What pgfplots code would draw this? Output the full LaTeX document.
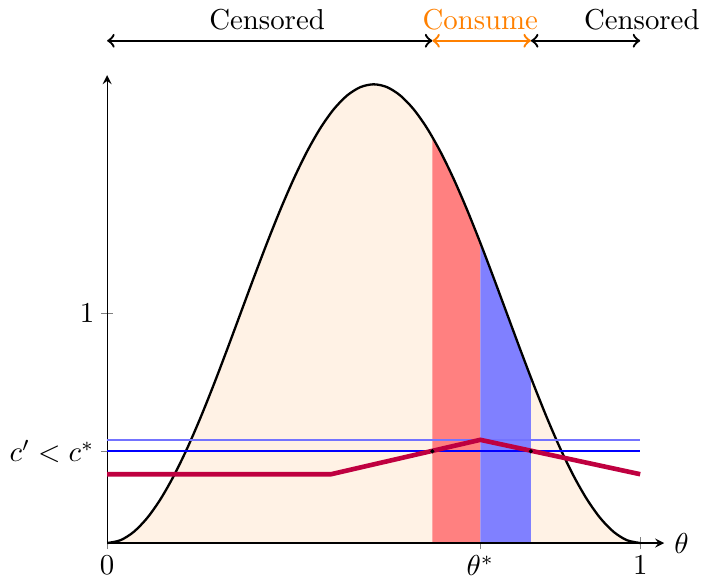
\documentclass[border=0pt]{standalone}
\usepackage{pgfplots}
\pgfplotsset{compat=1.18}
\begin{document}
\begin{tikzpicture}
\begin{axis}[
  x=185pt, y=79.6pt,
  axis lines=left,
  xmin=0, xmax=1.045, ymin=0, ymax=2.04,
  xtick={0,0.7,1}, xticklabels={$0$,$\theta^*$,$1$},
  ytick={0.4,1}, yticklabels={$c'<c^*$,$1$},
  tick align=center,
  xticklabel style={yshift=1.2pt},
  yticklabel style={xshift=1.2pt},
  xlabel={$\theta$},
  every axis x label/.style={at={(current axis.right of origin)}, anchor=west},
  clip=false,
]
% main density area
\addplot[fill=orange!10, draw=none, smooth] coordinates {
(0,0)(0.025,0.012312)(0.05,0.048943)(0.075,0.108993)(0.1,0.190983)(0.125,0.292893)
(0.15,0.412215)(0.175,0.546010)(0.2,0.690983)(0.225,0.843566)(0.25,1)
(0.275,1.156434)(0.3,1.309017)(0.325,1.453990)(0.35,1.587785)(0.375,1.707107)
(0.4,1.809017)(0.425,1.891007)(0.45,1.951057)(0.475,1.987688)(0.5,2)
(0.525,1.987688)(0.55,1.951057)(0.575,1.891007)(0.6,1.809017)(0.625,1.707107)
(0.65,1.587785)(0.675,1.453990)(0.7,1.309017)(0.725,1.156434)(0.75,1)
(0.775,0.843566)(0.8,0.690983)(0.825,0.546010)(0.85,0.412215)(0.875,0.292893)
(0.9,0.190983)(0.925,0.108993)(0.95,0.048943)(0.975,0.012312)(1,0)
} \closedcycle;
% red region
\addplot[fill=red!50, draw=none, smooth] coordinates {
(0.61,1.77051)(0.625,1.707107)(0.65,1.587785)(0.675,1.453990)(0.7,1.309017)
} \closedcycle;
% blue region
\addplot[fill=blue!50, draw=none, smooth] coordinates {
(0.7,1.309017)(0.725,1.156434)(0.75,1)(0.775,0.843566)(0.795,0.72101)
} \closedcycle;
% curve
\addplot[thick, black, smooth] coordinates {
(0,0)(0.025,0.012312)(0.05,0.048943)(0.075,0.108993)(0.1,0.190983)(0.125,0.292893)
(0.15,0.412215)(0.175,0.546010)(0.2,0.690983)(0.225,0.843566)(0.25,1)
(0.275,1.156434)(0.3,1.309017)(0.325,1.453990)(0.35,1.587785)(0.375,1.707107)
(0.4,1.809017)(0.425,1.891007)(0.45,1.951057)(0.475,1.987688)(0.5,2)
(0.525,1.987688)(0.55,1.951057)(0.575,1.891007)(0.6,1.809017)(0.625,1.707107)
(0.65,1.587785)(0.675,1.453990)(0.7,1.309017)(0.725,1.156434)(0.75,1)
(0.775,0.843566)(0.8,0.690983)(0.825,0.546010)(0.85,0.412215)(0.875,0.292893)
(0.9,0.190983)(0.925,0.108993)(0.95,0.048943)(0.975,0.012312)(1,0)
};
\addplot[thick, black] coordinates {(0,0)(1,0)};
% thresholds
\addplot[blue!55, thick] coordinates {(0,0.45)(1,0.45)};
\addplot[blue, thick] coordinates {(0,0.4)(1,0.4)};
% payoff line
\addplot[purple, ultra thick] coordinates {(0,0.3)(0.42,0.3)(0.7,0.45)(1,0.3)};
\addplot[only marks, mark=*, mark size=0.5pt, black] coordinates {(0.61,0.4)(0.795,0.4)};
% top arrows
\addplot[thick, <->] coordinates {(0,2.19)(0.61,2.19)};
\addplot[thick, <->, orange] coordinates {(0.61,2.19)(0.795,2.19)};
\addplot[thick, <->] coordinates {(0.795,2.19)(1,2.19)};
\node[above] at (axis cs:0.3,2.19) {Censored};
\node[above, text=orange] at (axis cs:0.7,2.19) {Consume};
\node[above, inner xsep=0.5pt] at (axis cs:1.003,2.19) {Censored};
\end{axis}
\end{tikzpicture}
\end{document}
